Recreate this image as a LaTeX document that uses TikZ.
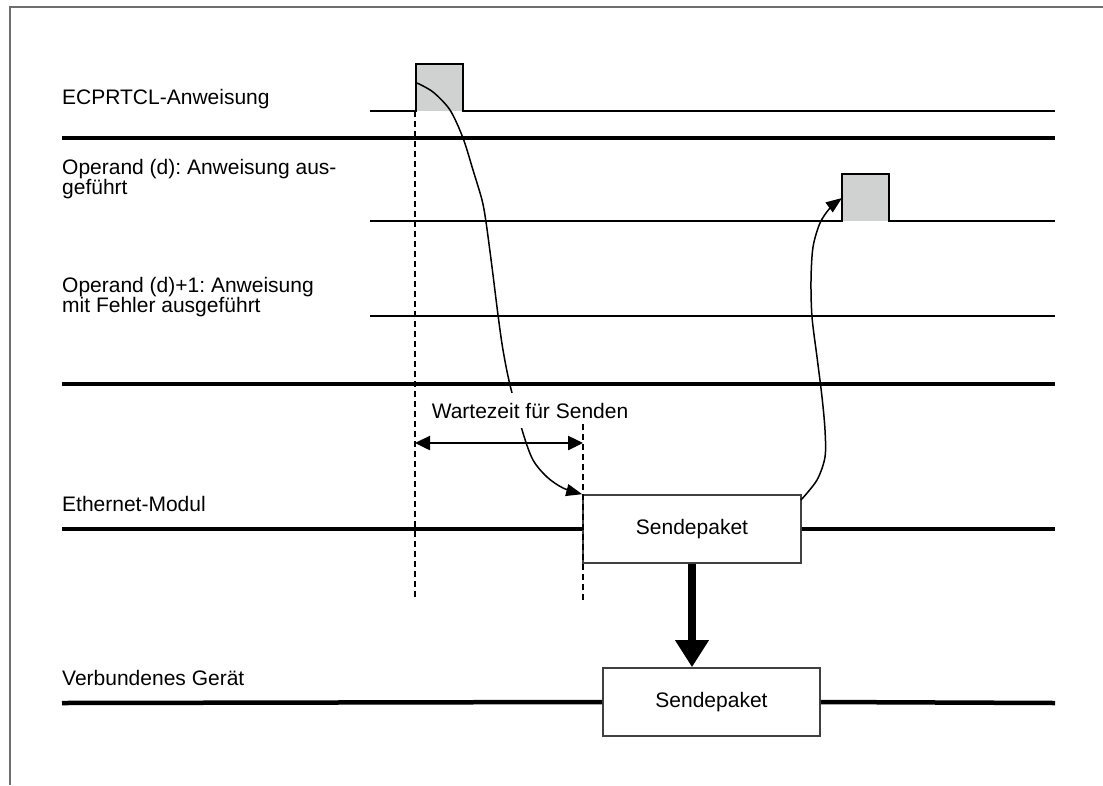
\documentclass[tikz,border=0pt]{standalone}
\usepackage{fontspec}
\setmainfont{Liberation Sans}
\usetikzlibrary{arrows.meta}
\frenchspacing
\definecolor{pulsegray}{RGB}{208,209,209}
\definecolor{framegray}{RGB}{110,110,110}
\tikzset{
  lbl/.style={anchor=base west, inner sep=0pt, align=left, font=\fontsize{21}{20}\selectfont},
  sepline/.style={line width=4.5pt},
  sigline/.style={line width=2pt},
  pkt/.style={draw=black!75, line width=1.6pt, fill=white, minimum width=218pt, minimum height=68pt, inner sep=0pt, font=\fontsize{21}{20}\selectfont},
  curvearrow/.style={line width=1.5pt, -{Triangle[length=16pt,width=12pt]}},
  dblarrow/.style={line width=2.5pt, {Triangle[length=15pt,width=14pt]}-{Triangle[length=15pt,width=14pt]}},
  bigarrow/.style={line width=8pt, -{Triangle[length=27pt,width=32pt]}},
  dashline/.style={line width=1.1pt, dash pattern=on 6pt off 4pt},
}
\begin{document}
\begin{tikzpicture}[x=1pt,y=-1pt]
\useasboundingbox (0,0) rectangle (1103,785);
% frame
\draw[framegray, line width=1.2pt] (10,785) -- (10,7) -- (1103,7);

% labels
\node[lbl] (l1) at (62,104) {ECPRTCL-Anweisung};
\node[lbl] (l2) at (62,194) {Operand (d): Anweisung aus-\\geführt};
\node[lbl] (l3) at (62,312) {Operand (d)+1: Anweisung\\mit Fehler ausgeführt};
\node[lbl] (l4) at (62,511) {Ethernet-Modul};
\node[lbl] (l5) at (62,685) {Verbundenes Gerät};

% separators
\coordinate (s1a) at (62,138); \coordinate (s1b) at (1055,138);
\coordinate (s2a) at (62,384); \coordinate (s2b) at (1055,384);
\draw[sepline] (s1a) -- (s1b);
\draw[sepline] (s2a) -- (s2b);

% signal 1 with pulse
\fill[pulsegray] (416,64) rectangle (463,111);
\coordinate (g1a) at (370,111); \coordinate (g1b) at (1055,111);
\draw[sigline] (g1a) -- (416,111) -- (416,64) -- (463,64) -- (463,111) -- (g1b);
% signal 2 with pulse
\fill[pulsegray] (842,174) rectangle (889,221);
\coordinate (g2a) at (370,221); \coordinate (g2b) at (1055,221);
\draw[sigline] (g2a) -- (842,221) -- (842,174) -- (889,174) -- (889,221) -- (g2b);
% signal 3
\coordinate (g3a) at (370,316); \coordinate (g3b) at (1055,316);
\draw[sigline] (g3a) -- (g3b);

% boxes
\node[pkt] (b1) at (692,529) {Sendepaket};
\node[pkt, minimum width=217pt] (b2) at (711.5,702) {Sendepaket};
\coordinate (e1a) at (62,529); \coordinate (e1b) at (1055,529);
\coordinate (e2a) at (62,703); \coordinate (e2b) at (1055,703);
\draw[sepline] (e1a) -- (b1.west);
\draw[sepline] (b1.east) -- (e1b);
\draw[sepline] (e2a) -- (b2.west);
\draw[sepline] (b2.east) -- (e2b);

% big arrow
\draw[bigarrow] (b1.south) -- (b1.south |- b2.north);

% curve 1
\coordinate (c1s) at (417,83);
\draw[curvearrow] plot[smooth, tension=0.5] coordinates {(c1s) (433,92) (450,110) (463,138) (473,170) (482,200) (486,222) (492,267) (498,315) (503,350) (510,385) (523,433) (533,460) (547,477) (563,488) (b1.north west)};
% curve 2
\coordinate (c2s) at (801,500);
\coordinate (p2) at (842,198);
\draw[curvearrow] plot[smooth, tension=0.5] coordinates {(c2s) (817,480) (825,457) (825,430) (822,397) (817,357) (812,317) (811,280) (813,247) (820,223) (830,208) (p2)};

% waiting time label
\node[fill=white, inner xsep=3pt, inner ysep=10pt, anchor=base, font=\fontsize{21}{20}\selectfont] (wt) at (530,418) {Wartezeit für Senden};

% dashed lines
\coordinate (d1t) at (415,111); \coordinate (d1b) at (415,597);
\coordinate (d2t) at (583,424); \coordinate (d2b) at (583,600);
\draw[dashline] (d1t) -- (d1b);
\draw[dashline] (d2t) -- (d2b);

% double arrow
\coordinate (w1) at (415,443); \coordinate (w2) at (583,443);
\draw[dblarrow] (w1) -- (w2);
\end{tikzpicture}
\end{document}
